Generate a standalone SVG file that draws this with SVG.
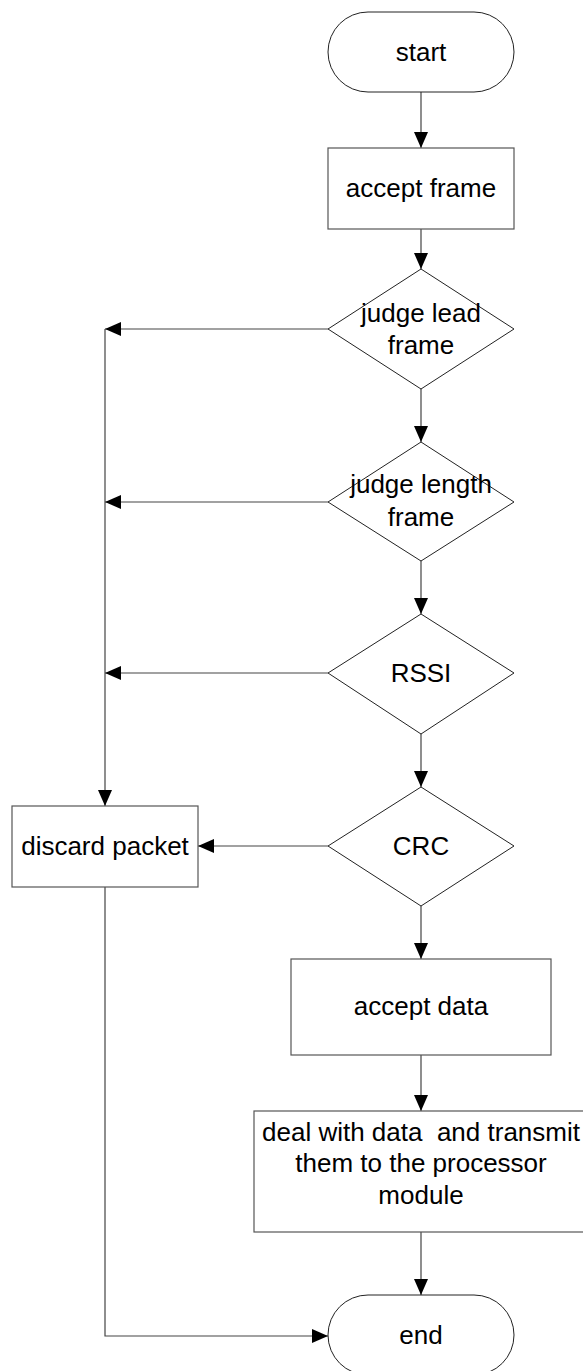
<svg xmlns="http://www.w3.org/2000/svg" width="583" height="1371" viewBox="0 0 583 1371">
<defs>
<style>
.shape{fill:#fff;stroke:#222;stroke-width:1}
.box{fill:#fff;stroke:#555;stroke-width:1.2}
.conn{fill:none;stroke:#444;stroke-width:1.2}
text{font-family:"Liberation Sans",Arial,sans-serif;font-size:26px;fill:#000;text-anchor:middle}
</style>
<marker id="ah" markerUnits="userSpaceOnUse" markerWidth="16" markerHeight="14" viewBox="0 0 16 14" refX="16" refY="7" orient="auto">
<path d="M0,0 L16,7 L0,14 Z" fill="#000"/>
</marker>
</defs>
<rect width="583" height="1371" fill="#fff"/>
<g id="connectors">
<path class="conn" d="M421,92 V148" marker-end="url(#ah)"/>
<path class="conn" d="M421,229 V269" marker-end="url(#ah)"/>
<path class="conn" d="M421,389 V442" marker-end="url(#ah)"/>
<path class="conn" d="M421,561 V614" marker-end="url(#ah)"/>
<path class="conn" d="M421,734 V787" marker-end="url(#ah)"/>
<path class="conn" d="M421,906 V959" marker-end="url(#ah)"/>
<path class="conn" d="M421,1055 V1111" marker-end="url(#ah)"/>
<path class="conn" d="M421,1232 V1295" marker-end="url(#ah)"/>
<path class="conn" d="M328,329 H105" marker-end="url(#ah)"/>
<path class="conn" d="M328,502 H105" marker-end="url(#ah)"/>
<path class="conn" d="M328,673 H105" marker-end="url(#ah)"/>
<path class="conn" d="M105,329 V806" marker-end="url(#ah)"/>
<path class="conn" d="M328,846 H198" marker-end="url(#ah)"/>
<path class="conn" d="M105,887 V1336 H328" marker-end="url(#ah)"/>
</g>
<g id="start">
<rect class="shape" x="328" y="12" width="186" height="80" rx="40" ry="40"/>
<text x="421" y="61">start</text>
</g>
<g id="accept-frame">
<rect class="box" x="328" y="148" width="186" height="81"/>
<text x="421" y="197">accept frame</text>
</g>
<g id="judge-lead">
<polygon class="shape" points="421,269 514,329 421,389 328,329"/>
<text x="421" y="322">judge lead</text>
<text x="421" y="354">frame</text>
</g>
<g id="judge-length">
<polygon class="shape" points="421,442 514,502 421,561 328,502"/>
<text x="421" y="493">judge length</text>
<text x="421" y="526">frame</text>
</g>
<g id="rssi">
<polygon class="shape" points="421,614 514,673 421,734 328,673"/>
<text x="421" y="682">RSSI</text>
</g>
<g id="crc">
<polygon class="shape" points="421,787 514,846 421,906 328,846"/>
<text x="421" y="855">CRC</text>
</g>
<g id="discard">
<rect class="box" x="12" y="806" width="186" height="81"/>
<text x="105" y="855">discard packet</text>
</g>
<g id="accept-data">
<rect class="box" x="291" y="959" width="260" height="96"/>
<text x="421" y="1015">accept data</text>
</g>
<g id="deal">
<rect class="box" x="254" y="1111" width="334" height="121"/>
<text x="421" y="1141" xml:space="preserve">deal with data  and transmit</text>
<text x="421" y="1172">them to the processor</text>
<text x="421" y="1204">module</text>
</g>
<g id="end">
<rect class="shape" x="328" y="1295" width="186" height="80" rx="40" ry="40"/>
<text x="421" y="1344">end</text>
</g>
</svg>
